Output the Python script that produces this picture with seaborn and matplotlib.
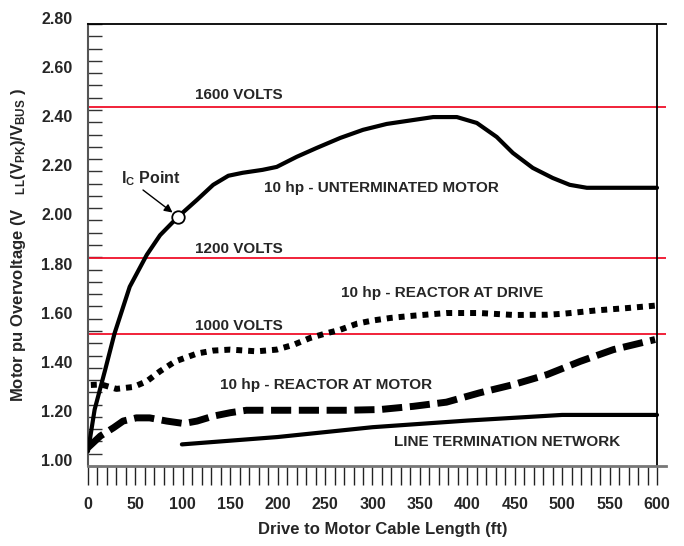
import matplotlib
matplotlib.use("Agg")
import matplotlib.pyplot as plt
import matplotlib.transforms as mtransforms
from matplotlib.ticker import MultipleLocator, FormatStrFormatter
import seaborn as sns
import numpy as np

# ---------------- data ----------------
unterm_x = [0, 7, 18, 28, 44, 62, 76, 95, 115, 132, 148, 163, 184, 199, 220, 241,
            266, 290, 315, 343, 364, 389, 410, 431, 448, 469, 490, 508, 526, 554, 600]
unterm_y = [1.06, 1.23, 1.39, 1.54, 1.73, 1.86, 1.94, 2.015, 2.084, 2.145, 2.182, 2.194,
            2.206, 2.218, 2.259, 2.295, 2.336, 2.369, 2.393, 2.409, 2.421, 2.421, 2.397,
            2.340, 2.275, 2.214, 2.173, 2.145, 2.133, 2.133, 2.133]

drive_x = [3, 14, 30, 48, 62, 76, 92, 115, 132, 150, 178, 199, 217, 234, 250, 266,
           284, 301, 319, 343, 378, 413, 449, 484, 501, 537, 568, 598]
drive_y = [1.33, 1.332, 1.314, 1.322, 1.345, 1.386, 1.426, 1.458, 1.470, 1.474, 1.467,
           1.474, 1.494, 1.521, 1.539, 1.555, 1.580, 1.593, 1.603, 1.612, 1.623, 1.623,
           1.615, 1.616, 1.620, 1.634, 1.643, 1.653]

motor_x = [0, 13, 27, 37, 51, 65, 83, 101, 115, 132, 150, 167, 203, 238, 273, 308,
           343, 378, 413, 449, 484, 519, 554, 598]
motor_y = [1.075, 1.122, 1.156, 1.183, 1.196, 1.196, 1.183, 1.173, 1.183, 1.203, 1.217,
           1.227, 1.227, 1.227, 1.227, 1.230, 1.243, 1.260, 1.298, 1.332, 1.372, 1.426,
           1.474, 1.515]

ltn_x = [99, 200, 300, 400, 500, 600]
ltn_y = [1.088, 1.118, 1.158, 1.185, 1.208, 1.208]

volt_levels = [2.463, 1.848, 1.536]
volt_labels = ["1600 VOLTS", "1200 VOLTS", "1000 VOLTS"]

ic_x = [95]
ic_y = [2.015]

curve_labels = ["10 hp - UNTERMINATED MOTOR", "10 hp - REACTOR AT DRIVE",
                "10 hp - REACTOR AT MOTOR", "LINE TERMINATION NETWORK"]

# ---------------- style ----------------
sns.set_style("ticks")
plt.rcParams["font.family"] = ["Liberation Sans", "DejaVu Sans"]
plt.rcParams["font.weight"] = "bold"
plt.rcParams["mathtext.fontset"] = "custom"
plt.rcParams["mathtext.rm"] = "Liberation Sans:bold"
plt.rcParams["mathtext.bf"] = "Liberation Sans:bold"
plt.rcParams["mathtext.it"] = "Liberation Sans:bold"

fig = plt.figure(figsize=(6.84, 5.46), dpi=100)
ax = fig.add_axes([0.12865, 0.14652, 0.84503, 0.80952])

# reference voltage lines
for lvl in volt_levels:
    ax.axhline(lvl, color="#f0102a", lw=1.3, zorder=1)

# curves
sns.lineplot(x=unterm_x, y=unterm_y, ax=ax, color="black", linewidth=3.0,
             estimator=None, sort=False, zorder=3)
sns.lineplot(x=drive_x, y=drive_y, ax=ax, color="black", linewidth=4.3,
             linestyle=(0, (1.0, 1.0)), estimator=None, sort=False, zorder=3,
             dash_capstyle="butt")
sns.lineplot(x=motor_x, y=motor_y, ax=ax, color="black", linewidth=5.0,
             linestyle=(0, (2.9, 1.1)), estimator=None, sort=False, zorder=3,
             dash_capstyle="butt")
sns.lineplot(x=ltn_x, y=ltn_y, ax=ax, color="black", linewidth=3.0,
             estimator=None, sort=False, zorder=3)

# Ic point
ax.plot(ic_x, ic_y, marker="o", markersize=9, markerfacecolor="white",
        markeredgecolor="black", markeredgewidth=1.3, linestyle="none", zorder=5)
ax.annotate("", xy=(ic_x[0], ic_y[0]), xytext=(58, 2.124),
            arrowprops=dict(arrowstyle="-|>", color="black", lw=1.0,
                            mutation_scale=12, shrinkA=0, shrinkB=5), zorder=4)
ax.text(66, 2.169, r"I$_{\mathrm{C}}$ Point", ha="center", va="center",
        fontsize=11.5, fontweight="bold")

# labels
for lvl_y, txt in zip([2.511, 1.885, 1.572], volt_labels):
    ax.text(158.7, lvl_y, txt, ha="center", va="center", fontsize=11, fontweight="bold")
label_pos = [(309, 2.133), (373, 1.706), (251.5, 1.328), (442, 1.096)]
for (px, py), txt in zip(label_pos, curve_labels):
    ax.text(px, py, txt, ha="center", va="center", fontsize=11, fontweight="bold")

# axes
ax.set_xlim(0, 609.5)
ax.set_ylim(1.0, 2.8)
ax.axvline(600, color="black", lw=1.3, zorder=2)
ax.spines["right"].set_visible(False)
ax.spines["top"].set_color("black")
ax.spines["top"].set_linewidth(1.3)
ax.spines["left"].set_color("#555555")
ax.spines["left"].set_linewidth(1.5)
ax.spines["bottom"].set_color("#777777")
ax.spines["bottom"].set_linewidth(2.0)

ax.xaxis.set_major_locator(MultipleLocator(50))
ax.xaxis.set_minor_locator(MultipleLocator(10))
ax.yaxis.set_major_locator(MultipleLocator(0.2))
ax.yaxis.set_minor_locator(MultipleLocator(0.05))
ax.yaxis.set_major_formatter(FormatStrFormatter("%.2f"))

ax.tick_params(axis="x", which="both", direction="out", length=14, width=1.0,
               color="#222222", pad=8, labelsize=11.5)
ax.tick_params(axis="y", which="major", direction="in", length=10, width=1.0,
               color="#333333", pad=11, labelsize=11.5)
ax.tick_params(axis="y", which="minor", direction="in", length=10, width=1.0,
               color="#333333")
ax.tick_params(top=False, right=False, which="both")
for lab in ax.get_xticklabels() + ax.get_yticklabels():
    lab.set_fontweight("bold")
offset = mtransforms.ScaledTranslation(0, 0.06, fig.dpi_scale_trans)
for lab in ax.get_yticklabels():
    lab.set_transform(lab.get_transform() + offset)

ax.set_xlabel("Drive to Motor Cable Length (ft)", fontsize=12, fontweight="bold",
              labelpad=12)
ax.set_ylabel(r"Motor pu Overvoltage (V$\quad{}_{\mathrm{LL}}$(V$_{\mathrm{PK}}$)/V$_{\mathrm{BUS}}$ )",
              fontsize=12, fontweight="bold")
ax.yaxis.set_label_coords(-0.104, 0.5)
ax.xaxis.set_label_coords(0.51, -0.127)

fig.savefig("out.png", dpi=100)
